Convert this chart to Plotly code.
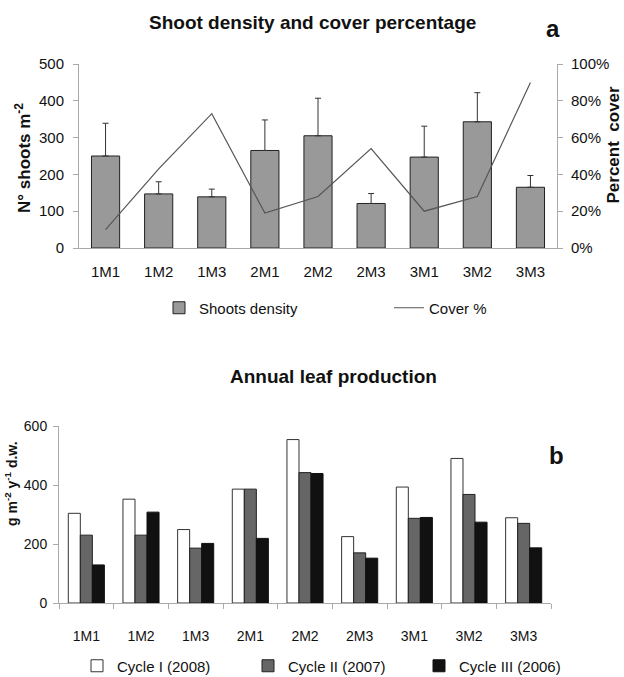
import plotly.graph_objects as go

# Sampling sites
sites = ["1M1", "1M2", "1M3", "2M1", "2M2", "2M3", "3M1", "3M2", "3M3"]

# Panel a: shoot density (shoots m-2) with SD, and cover percentage
shoot_density = [250, 147, 139, 265, 305, 121, 247, 343, 165]
shoot_sd = [89, 33, 21, 83, 102, 27, 84, 79, 32]
cover_pct = [0.10, 0.43, 0.73, 0.19, 0.28, 0.54, 0.20, 0.28, 0.90]

# Panel b: annual leaf production (g m-2 y-1 d.w.) per growth cycle
cycle_1 = [304, 352, 249, 386, 554, 225, 393, 490, 289]
cycle_2 = [230, 230, 186, 386, 442, 170, 287, 368, 270]
cycle_3 = [129, 308, 202, 219, 439, 152, 290, 274, 187]

FONT = "Liberation Sans, Arial, sans-serif"
W, H = 624, 677

fig = go.Figure()

# ---- panel a ----
fig.add_trace(go.Bar(
    x=sites, y=shoot_density, name="Shoots density",
    marker=dict(color="#999999", line=dict(color="#222222", width=1)),
    error_y=dict(type="data", array=shoot_sd, arrayminus=[0] * len(sites),
                 symmetric=False, color="#333333", thickness=1, width=3),
    width=0.53, xaxis="x", yaxis="y", legend="legend",
))
fig.add_trace(go.Scatter(
    x=sites, y=cover_pct, name="Cover %", mode="lines",
    line=dict(color="#555555", width=1.2),
    xaxis="x", yaxis="y2", legend="legend",
))

# ---- panel b ----
for vals, name, col, edge in [
    (cycle_1, "Cycle I (2008)", "#ffffff", "#333333"),
    (cycle_2, "Cycle II (2007)", "#666666", "#222222"),
    (cycle_3, "Cycle III (2006)", "#111111", "#111111"),
]:
    fig.add_trace(go.Bar(
        x=sites, y=vals, name=name,
        marker=dict(color=col, line=dict(color=edge, width=1)),
        xaxis="x3", yaxis="y3", legend="legend2",
    ))

def px_x(p):
    return p / W

def px_y(p):
    return 1 - p / H

axis_line = "#aaaaaa"
common = dict(showline=True, linecolor=axis_line, linewidth=1,
              showgrid=False, zeroline=False, automargin=False)

fig.update_layout(
    width=W, height=H,
    margin=dict(l=0, r=0, t=0, b=0, autoexpand=False),
    paper_bgcolor="white", plot_bgcolor="white",
    font=dict(family=FONT, color="#111111"),
    barmode="group", bargap=0.34, bargroupgap=0,
    showlegend=True,
    xaxis=dict(
        domain=[px_x(79), px_x(557)], anchor="y",
        ticks="", tickfont=dict(size=15), ticklabelstandoff=10, **common,
    ),
    yaxis=dict(
        domain=[px_y(248), px_y(64)], anchor="x",
        range=[0, 500], dtick=100,
        ticks="outside", ticklen=5, tickcolor=axis_line,
        tickfont=dict(size=15), ticklabelstandoff=6, **common,
    ),
    yaxis2=dict(
        overlaying="y", side="right", anchor="x",
        range=[0, 1], dtick=0.2, tickformat=".0%",
        ticks="outside", ticklen=5, tickcolor=axis_line,
        tickfont=dict(size=15), ticklabelstandoff=5, **common,
    ),
    xaxis3=dict(
        domain=[px_x(59), px_x(551)], anchor="y3",
        ticks="outside", ticklen=5, tickcolor=axis_line,
        tickson="boundaries",
        tickfont=dict(size=14), ticklabelstandoff=20, **common,
    ),
    yaxis3=dict(
        domain=[px_y(603), px_y(426)], anchor="x3",
        range=[0, 600], dtick=200,
        ticks="outside", ticklen=5, tickcolor=axis_line,
        tickfont=dict(size=14), ticklabelstandoff=3, **common,
    ),
    legend=dict(
        orientation="h", x=px_x(159), y=px_y(308), xanchor="left", yanchor="middle",
        entrywidth=185, font=dict(size=15),
        bgcolor="rgba(0,0,0,0)", traceorder="normal",
    ),
    legend2=dict(
        orientation="h", x=px_x(77), y=px_y(666), xanchor="left", yanchor="middle",
        entrywidth=126, font=dict(size=15),
        bgcolor="rgba(0,0,0,0)", traceorder="normal",
    ),
)

annots = [
    dict(text="<b>Shoot density and cover percentage</b>", x=px_x(312), y=px_y(22),
         font=dict(size=19)),
    dict(text="<b>a</b>", x=px_x(553), y=px_y(28), font=dict(size=24)),
    dict(text="<b>N° shoots m<sup>-2</sup></b>", x=px_x(23), y=px_y(158),
         textangle=-90, font=dict(size=17)),
    dict(text="<b>Percent  cover</b>", x=1, y=px_y(145), xanchor="right",
         textangle=-90, font=dict(size=17)),
    dict(text="<b>Annual leaf production</b>", x=px_x(333), y=px_y(376),
         font=dict(size=19)),
    dict(text="<b>b</b>", x=px_x(556), y=px_y(455), font=dict(size=24)),
    dict(text="<b>g m<sup>-2</sup> y<sup>-1</sup> d.w.</b>", x=0, y=px_y(484),
         xanchor="left", textangle=-90, font=dict(size=14)),
]
for a in annots:
    a.setdefault("xanchor", "center")
    a.update(xref="paper", yref="paper", showarrow=False, yanchor="middle")
    a["font"].update(family=FONT, color="#111111")
fig.update_layout(annotations=annots)

fig.write_html("out.html")
